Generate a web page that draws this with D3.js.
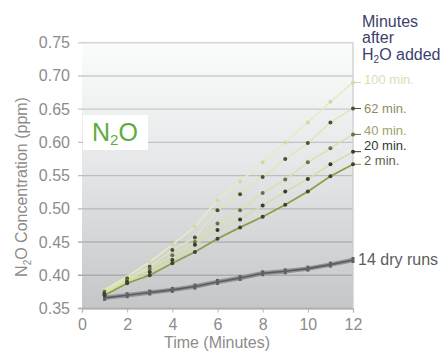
<!DOCTYPE html>
<html>
<head>
<meta charset="utf-8">
<script src="https://cdn.jsdelivr.net/npm/d3@7"></script>
<style>
  html, body { margin: 0; padding: 0; background: #ffffff; }
  svg { display: block; font-family: "Liberation Sans", Arial, sans-serif; }
</style>
</head>
<body>
<svg id="chart" width="448" height="352"></svg>
<script>
// ---- data ----
const minutes = [1, 2, 3, 4, 5, 6, 7, 8, 9, 10, 11, 12];
const xTicks = [0, 2, 4, 6, 8, 10, 12];
const yTicks = [0.35, 0.40, 0.45, 0.50, 0.55, 0.60, 0.65, 0.70, 0.75];
const seriesNames = ["100 min.", "62 min.", "40 min.", "20 min.", "2 min."];
const wet100 = [0.378, 0.398, 0.420, 0.446, 0.473, 0.513, 0.541, 0.570, 0.600, 0.630, 0.661, 0.690];
const wet62  = [0.375, 0.395, 0.413, 0.438, 0.457, 0.498, 0.522, 0.548, 0.575, 0.599, 0.630, 0.651];
const wet40  = [0.373, 0.392, 0.410, 0.430, 0.450, 0.478, 0.498, 0.524, 0.544, 0.570, 0.591, 0.612];
const wet20  = [0.372, 0.390, 0.405, 0.423, 0.446, 0.468, 0.484, 0.505, 0.526, 0.545, 0.567, 0.586];
const wet2   = [0.370, 0.388, 0.400, 0.418, 0.435, 0.455, 0.472, 0.488, 0.506, 0.526, 0.549, 0.567];
const dryRuns = [0.366, 0.370, 0.374, 0.378, 0.383, 0.390, 0.396, 0.403, 0.406, 0.410, 0.416, 0.423];
const legendTitle = ["Minutes", "after", "H|2|O added"];
const dryLabel = "14 dry runs";

// ---- styles ----
const styles = {
  "100 min.": { line: "#e6ecc6", width: 1.6, dot: "#d2d8aa", label: "#dedcb6" },
  "62 min.":  { line: "#e0e7b6", width: 1.5, dot: "#4a5036", label: "#8e8c5c" },
  "40 min.":  { line: "#dae2ab", width: 1.5, dot: "#68704c", label: "#9ea36c" },
  "20 min.":  { line: "#d5dea4", width: 1.5, dot: "#353c2c", label: "#2d3b30" },
  "2 min.":   { line: "#86a244", width: 1.8, dot: "#3b4628", label: "#5b6245" }
};
const seriesData = { "100 min.": wet100, "62 min.": wet62, "40 min.": wet40, "20 min.": wet20, "2 min.": wet2 };
const labelY = { "100 min.": 84, "62 min.": 113, "40 min.": 135, "20 min.": 150, "2 min.": 165 };

const svg = d3.select("#chart");
const x = d3.scaleLinear().domain([0, 12]).range([82, 353]);
const y = d3.scaleLinear().domain([0.35, 0.75]).range([308.5, 42.7]);

// background gradient
const defs = svg.append("defs");
const grad = defs.append("linearGradient").attr("id", "bg").attr("x1", 0).attr("y1", 0).attr("x2", 0).attr("y2", 1);
grad.append("stop").attr("offset", "0%").attr("stop-color", "#fbfcfc");
grad.append("stop").attr("offset", "45%").attr("stop-color", "#e6e7e8");
grad.append("stop").attr("offset", "100%").attr("stop-color", "#c4c6c8");

svg.append("rect")
  .attr("x", x(0)).attr("y", y(0.75))
  .attr("width", x(12) - x(0)).attr("height", y(0.35) - y(0.75))
  .attr("fill", "url(#bg)");

// gridlines
const gridColor = d3.scaleLinear().domain([0.35, 0.75]).range(["#a4a6a8", "#d2d3d4"]);
svg.append("g").selectAll("line").data(yTicks).join("line")
  .attr("x1", x(0) - 4).attr("x2", x(12))
  .attr("y1", d => y(d)).attr("y2", d => y(d))
  .attr("stroke", d => gridColor(d)).attr("stroke-width", 1.4);

// right border
svg.append("line").attr("x1", x(12)).attr("x2", x(12)).attr("y1", y(0.75)).attr("y2", y(0.35))
  .attr("stroke", "#c9cacb").attr("stroke-width", 1.2);

// y axis labels
svg.append("g").selectAll("text").data(yTicks).join("text")
  .attr("x", 70).attr("y", d => y(d) + 5.5)
  .attr("text-anchor", "end").attr("font-size", 16).attr("fill", "#8c8c8c")
  .text(d => d.toFixed(2));

// x axis
const xAxis = d3.axisBottom(x).tickValues(xTicks).tickSize(4).tickPadding(6).tickFormat(d3.format("d"));
const gx = svg.append("g").attr("transform", `translate(0,${y(0.35)})`).call(xAxis);
gx.select(".domain").attr("stroke", "#b0b2b4").attr("stroke-width", 1.2);
gx.selectAll(".tick line").attr("stroke", "#b0b2b4");
gx.selectAll(".tick text").attr("font-size", 16).attr("fill", "#8c8c8c")
  .attr("font-family", "Liberation Sans, Arial, sans-serif");

// axis titles
svg.append("text").attr("x", 217).attr("y", 348).attr("text-anchor", "middle")
  .attr("font-size", 16).attr("fill", "#8c8c8c").text("Time (Minutes)");

const yt = svg.append("text").attr("transform", "translate(27,187) rotate(-90)")
  .attr("text-anchor", "middle").attr("font-size", 16).attr("fill", "#8c8c8c");
yt.append("tspan").text("N");
yt.append("tspan").attr("font-size", 10).attr("dy", 4).text("2");
yt.append("tspan").attr("dy", -4).text("O Concentration (ppm)");

// lines
const line = d3.line().x((d, i) => x(minutes[i])).y(d => y(d));

// dry runs bundle
svg.append("path").datum(dryRuns).attr("d", line).attr("fill", "none")
  .attr("stroke", "#909397").attr("stroke-width", 4.5);
svg.append("path").datum(dryRuns).attr("d", line).attr("fill", "none")
  .attr("stroke", "#585c61").attr("stroke-width", 1.6);
svg.append("g").selectAll("rect").data(dryRuns).join("rect")
  .attr("x", (d, i) => x(minutes[i]) - 1.5).attr("y", d => y(d) - 3)
  .attr("width", 3).attr("height", 6).attr("fill", "#5e6267");

seriesNames.forEach(name => {
  const st = styles[name];
  const vals = seriesData[name];
  svg.append("path").datum(vals).attr("d", line).attr("fill", "none")
    .attr("stroke", st.line).attr("stroke-width", st.width);
  // leader to label
  const last = vals[vals.length - 1];
  svg.append("line").attr("x1", x(12)).attr("x2", x(12) + 8)
    .attr("y1", y(last)).attr("y2", y(last))
    .attr("stroke", name === "2 min." ? st.line : st.dot).attr("stroke-width", 1);
  svg.append("g").selectAll("circle").data(vals).join("circle")
    .attr("cx", (d, i) => x(minutes[i])).attr("cy", d => y(d))
    .attr("r", 2).attr("fill", st.dot);
  svg.append("text").attr("x", 364).attr("y", labelY[name])
    .attr("font-size", 13).attr("fill", st.label).text(name);
});

// legend title
const lt = svg.append("g").attr("fill", "#3c3f6e").attr("font-size", 16);
lt.append("text").attr("x", 362).attr("y", 27).text(legendTitle[0]);
lt.append("text").attr("x", 362).attr("y", 43).text(legendTitle[1]);
const h2o = lt.append("text").attr("x", 362).attr("y", 60);
const parts = legendTitle[2].split("|");
h2o.append("tspan").text(parts[0]);
h2o.append("tspan").attr("font-size", 10).attr("dy", 3).text(parts[1]);
h2o.append("tspan").attr("dy", -3).text(parts[2]);

// dry label
svg.append("text").attr("x", 358).attr("y", 265).attr("font-size", 16)
  .attr("fill", "#5b5d60").text(dryLabel);

// N2O box
svg.append("rect").attr("x", 83).attr("y", 115).attr("width", 65).attr("height", 35).attr("fill", "#ffffff");
const nt = svg.append("text").attr("x", 92).attr("y", 141).attr("font-size", 25).attr("fill", "#5cad3c");
nt.append("tspan").text("N");
nt.append("tspan").attr("font-size", 15).attr("dy", 4).text("2");
nt.append("tspan").attr("dy", -4).text("O");
</script>
</body>
</html>
